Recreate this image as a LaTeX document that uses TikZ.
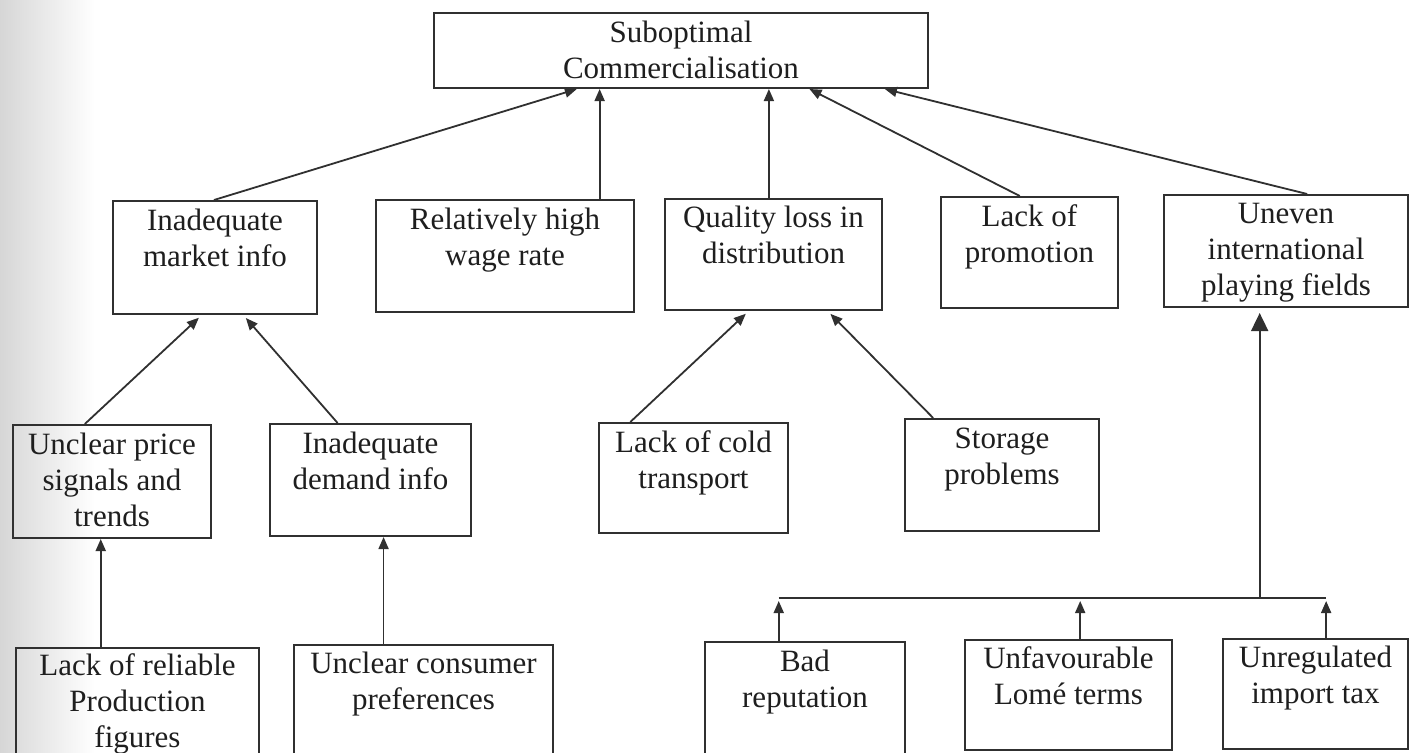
\documentclass[tikz,border=0pt]{standalone}
\usepackage{fontspec}
\setmainfont{Liberation Serif}
\usetikzlibrary{arrows.meta,calc,fit}
\definecolor{ink}{HTML}{1E1E1E}
\definecolor{edge}{HTML}{303030}
% a cause box: [first baseline offset] name, corners (x1,y1) (x2,y2), centred lines of text
\newcommand\causebox[7][30]{%
  \node[box, fit={(#3,#4)(#5,#6)}] (#2) {};
  \node[lbl] (#2-txt) at ($(#2.north)+(0,#1)$)
    {\begin{tabular}[t]{@{}c@{}}#7\end{tabular}};}
\begin{document}
\begin{tikzpicture}[x=0.5pt,y=-0.5pt,
  box/.style={draw=edge, line width=1pt, inner sep=0pt, rectangle},
  lbl/.style={anchor=base, inner sep=0pt, text=ink,
              font=\fontsize{15.5}{18.1}\selectfont},
  arr/.style={draw=edge, line width=0.9pt,
              -{Triangle[length=6pt,width=5pt]}},
  bigarr/.style={draw=edge, line width=0.9pt,
              -{Triangle[length=9pt,width=8.5pt]}},
  barline/.style={draw=edge, line width=1.2pt}]
\useasboundingbox (0,0) rectangle (1410,752);
\clip (0,0) rectangle (1410,752);
% shadow along the bound edge of the page
\shade[left color=black!16, right color=white] (0,0) rectangle (95,752);

% effect
\causebox{T}{434}{13}{928}{88}{Suboptimal\\Commercialisation}
% first-level causes
\causebox{A}{113}{201}{317}{314}{Inadequate\\market info}
\causebox{B}{376}{200}{634}{312}{Relatively high\\wage rate}
\causebox[29]{C}{665}{199}{882}{310}{Quality loss in\\distribution}
\causebox{D}{941}{197}{1118}{308}{Lack of\\promotion}
\causebox[29]{E}{1164}{195}{1408}{307}{Uneven\\international\\playing fields}
% second-level causes
\causebox{F}{13}{425}{211}{538}{Unclear price\\signals and\\trends}
\causebox{G}{270}{424}{471}{536}{Inadequate\\demand info}
\causebox{H}{599}{423}{788}{533}{Lack of cold\\transport}
\causebox{I}{905}{419}{1099}{531}{Storage\\problems}
% third-level causes
\causebox[28]{J}{16}{648}{259}{790}{Lack of reliable\\Production\\figures}
\causebox[29]{K}{294}{645}{553}{790}{Unclear consumer\\preferences}
\causebox{L}{705}{642}{905}{790}{Bad\\reputation}
\causebox[29]{M}{965}{640}{1172}{750}{Unfavourable\\Lomé terms}
\causebox[29]{N}{1223}{639}{1408}{749}{Unregulated\\import tax}

% arrows into the effect
\draw[arr] ($(A.north west)!0.495!(A.north east)$) -- ($(T.south west)!0.29!(T.south east)$);
\coordinate (b1) at ($(B.north west)!0.864!(B.north east)$);
\draw[arr] (b1) -- (b1 |- T.south);
\coordinate (c1) at ($(C.north west)!0.479!(C.north east)$);
\draw[arr] (c1) -- (c1 |- T.south);
\draw[arr] ($(D.north west)!0.446!(D.north east)$) -- ($(T.south west)!0.759!(T.south east)$);
\draw[arr] ($(E.north west)!0.586!(E.north east)$) -- ($(T.south west)!0.911!(T.south east)$);

% arrows into the first-level causes
\draw[arr, shorten >=2pt] ($(F.north west)!0.364!(F.north east)$) -- ($(A.south west)!0.436!(A.south east)$);
\draw[arr, shorten >=2pt] ($(G.north west)!0.338!(G.north east)$) -- ($(A.south west)!0.637!(A.south east)$);
\draw[arr, shorten >=2pt] ($(H.north west)!0.169!(H.north east)$) -- ($(C.south west)!0.387!(C.south east)$);
\draw[arr, shorten >=2pt] ($(I.north west)!0.149!(I.north east)$) -- ($(C.south west)!0.747!(C.south east)$);

% arrows into the second-level causes
\coordinate (j1) at ($(J.north west)!0.35!(J.north east)$);
\draw[arr] (j1) -- (j1 |- F.south);
\coordinate (k1) at ($(K.north west)!0.347!(K.north east)$);
\draw[arr] (k1) -- (k1 |- G.south);

% bracket gathering the trade causes
\coordinate (bar) at (0,598);
\coordinate (l1) at ($(L.north west)!0.37!(L.north east)$);
\coordinate (m1) at ($(M.north west)!0.556!(M.north east)$);
\coordinate (n1) at ($(N.north west)!0.557!(N.north east)$);
\coordinate (e1) at ($(E.south west)!0.393!(E.south east)$);
\draw[barline] (l1 |- bar) -- (n1 |- bar);
\draw[arr, shorten >=1.5pt] (l1) -- (l1 |- bar);
\draw[arr, shorten >=1.5pt] (m1) -- (m1 |- bar);
\draw[arr, shorten >=1.5pt] (n1) -- (n1 |- bar);
\draw[bigarr, shorten >=2.5pt] (e1 |- bar) -- (e1);
\end{tikzpicture}
\end{document}
